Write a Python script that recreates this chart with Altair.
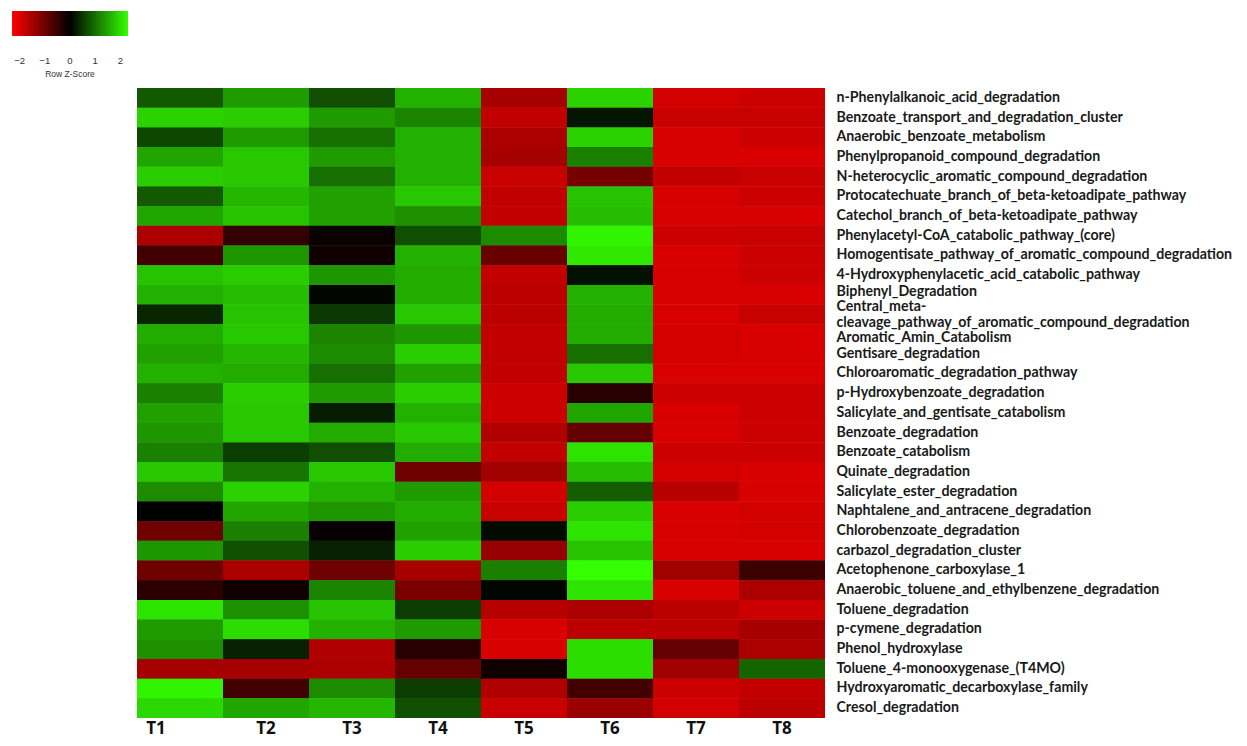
import altair as alt
import pandas as pd

pathways = [
    "n-Phenylalkanoic_acid_degradation",
    "Benzoate_transport_and_degradation_cluster",
    "Anaerobic_benzoate_metabolism",
    "Phenylpropanoid_compound_degradation",
    "N-heterocyclic_aromatic_compound_degradation",
    "Protocatechuate_branch_of_beta-ketoadipate_pathway",
    "Catechol_branch_of_beta-ketoadipate_pathway",
    "Phenylacetyl-CoA_catabolic_pathway_(core)",
    "Homogentisate_pathway_of_aromatic_compound_degradation",
    "4-Hydroxyphenylacetic_acid_catabolic_pathway",
    "Biphenyl_Degradation",
    "Central_meta-|cleavage_pathway_of_aromatic_compound_degradation",
    "Aromatic_Amin_Catabolism",
    "Gentisare_degradation",
    "Chloroaromatic_degradation_pathway",
    "p-Hydroxybenzoate_degradation",
    "Salicylate_and_gentisate_catabolism",
    "Benzoate_degradation",
    "Benzoate_catabolism",
    "Quinate_degradation",
    "Salicylate_ester_degradation",
    "Naphtalene_and_antracene_degradation",
    "Chlorobenzoate_degradation",
    "carbazol_degradation_cluster",
    "Acetophenone_carboxylase_1",
    "Anaerobic_toluene_and_ethylbenzene_degradation",
    "Toluene_degradation",
    "p-cymene_degradation",
    "Phenol_hydroxylase",
    "Toluene_4-monooxygenase_(T4MO)",
    "Hydroxyaromatic_decarboxylase_family",
    "Cresol_degradation",
]

samples = ["T1", "T2", "T3", "T4", "T5", "T6", "T7", "T8"]

T1 = [0.8, 1.9, 0.65, 1.5, 1.85, 0.8, 1.5, -1.55, -0.6, 1.75, 1.6, 0.35, 1.55, 1.45, 1.6, 1.15,
      1.45, 1.35, 1.15, 1.8, 1.25, 0.0, -1.0, 1.35, -1.0, -0.4, 2.05, 1.4, 1.3, -1.5, 2.2, 1.95]
T2 = [1.4, 1.85, 1.4, 1.8, 1.8, 1.65, 1.75, -0.45, 1.35, 1.85, 1.7, 1.75, 1.8, 1.65, 1.55, 1.85,
      1.8, 1.8, 0.55, 1.05, 1.9, 1.5, 1.15, 0.7, -1.55, -0.15, 1.3, 2.0, 0.3, -1.5, -0.6, 1.5]
T3 = [0.7, 1.4, 1.0, 1.4, 1.0, 1.45, 1.45, -0.1, -0.15, 1.35, 0.05, 0.5, 1.2, 1.25, 1.0, 1.4,
      0.25, 1.55, 0.7, 1.8, 1.6, 1.35, -0.05, 0.3, -1.0, 1.2, 1.75, 1.6, -1.6, -1.55, 1.25, 1.65]
T4 = [1.6, 1.2, 1.6, 1.6, 1.6, 1.8, 1.3, 0.7, 1.6, 1.55, 1.55, 1.8, 1.35, 1.85, 1.45, 1.85,
      1.6, 1.8, 1.55, -1.0, 1.4, 1.55, 1.45, 1.85, -1.5, -1.1, 0.55, 1.4, -0.35, -0.9, 0.55, 0.7]
T5 = [-1.5, -1.75, -1.55, -1.5, -1.8, -1.75, -1.75, 1.25, -0.95, -1.75, -1.7, -1.7, -1.75, -1.75, -1.75, -1.85,
      -1.85, -1.6, -1.75, -1.45, -1.9, -1.8, 0.1, -1.35, 1.15, 0.05, -1.65, -1.95, -1.95, -0.15, -1.6, -1.8]
T6 = [1.9, 0.2, 1.9, 1.15, -1.05, 1.75, 1.7, 2.2, 2.1, 0.15, 1.6, 1.55, 1.55, 1.0, 1.8, -0.35,
      1.5, -0.9, 2.05, 1.7, 0.85, 1.85, 2.05, 1.75, 2.3, 2.05, -1.55, -1.7, 2.0, 2.0, -0.6, -1.4]
T7 = [-1.9, -1.8, -1.95, -1.95, -1.75, -1.95, -1.95, -1.85, -1.95, -1.95, -1.95, -1.95, -1.9, -1.9, -1.95, -1.85,
      -1.95, -1.95, -1.85, -1.9, -1.65, -1.95, -1.95, -1.95, -1.45, -1.95, -1.7, -1.7, -0.9, -1.45, -1.85, -1.9]
T8 = [-1.85, -1.8, -1.85, -1.95, -1.8, -1.85, -1.95, -1.8, -1.85, -1.85, -1.95, -1.8, -1.95, -1.95, -1.95, -1.85,
      -1.85, -1.85, -1.85, -1.95, -1.95, -1.9, -1.9, -1.95, -0.55, -1.55, -1.85, -1.5, -1.55, 0.9, -1.75, -1.7]

columns = {"T1": T1, "T2": T2, "T3": T3, "T4": T4, "T5": T5, "T6": T6, "T7": T7, "T8": T8}

records = []
for s in samples:
    for p, v in zip(pathways, columns[s]):
        records.append({"Sample": s, "Pathway": p, "z": v})
df = pd.DataFrame(records)

color_domain = [-2.3, 0, 2.3]
color_range = ["#ff0000", "#000000", "#33ff00"]

label_shift = {
    "condition": [
        {"test": "indexof(datum.value, '|') >= 0", "value": -7},
        {"test": "datum.value == 'Biphenyl_Degradation'", "value": -3},
        {"test": "datum.value == 'Aromatic_Amin_Catabolism'", "value": 4},
    ],
    "value": 0,
}

x_enc = alt.X(
    "Sample:N",
    sort=samples,
    scale=alt.Scale(paddingInner=0, paddingOuter=0),
    axis=alt.Axis(
        title=None,
        orient="bottom",
        labelAngle=0,
        ticks=False,
        domain=False,
        labelFont="Open Sans",
        labelFontWeight="bold",
        labelFontSize=17,
        labelColor="#111111",
        labelPadding=2,
        labelOffset={"condition": {"test": "datum.value == 'T1'", "value": -24}, "value": 0},
    ),
)

y_enc = alt.Y(
    "Pathway:N",
    sort=pathways,
    scale=alt.Scale(paddingInner=0, paddingOuter=0),
    axis=alt.Axis(
        title=None,
        orient="right",
        ticks=False,
        domain=False,
        labelFont="Lato",
        labelFontWeight="bold",
        labelFontSize=14.2,
        labelColor="#1a1a1a",
        labelPadding=11,
        labelLimit=500,
        labelLineHeight=16,
        labelExpr="split(datum.label, '|')",
        labelOffset=label_shift,
    ),
)

color_scale = alt.Scale(domain=color_domain, range=color_range, interpolate="rgb")

legend = alt.Legend(
    title="Row Z-Score",
    orient="none",
    legendX=-125,
    legendY=-77,
    direction="horizontal",
    gradientLength=116,
    gradientThickness=25,
    values=[-2, -1, 0, 1, 2],
    labelFontSize=9.5,
    labelFont="Liberation Sans",
    labelColor="#333333",
    labelOffset=20,
    titleOrient="bottom",
    titleAnchor="middle",
    titleFontSize=8.5,
    titleFont="Liberation Sans",
    titleFontWeight="normal",
    titleColor="#333333",
    titlePadding=4,
)

base = alt.Chart(df).mark_rect(strokeWidth=0)

cells = base.encode(x=x_enc, y=y_enc, color=alt.Color("z:Q", scale=color_scale, legend=legend))
cells_again = base.encode(x=x_enc, y=y_enc, color=alt.Color("z:Q", scale=color_scale, legend=None))

chart = (
    alt.layer(cells, cells_again)
    .properties(
        width=688,
        height=630,
        autosize=alt.AutoSizeParams(type="none"),
        padding={"left": 129, "top": 80, "right": 414, "bottom": 20},
    )
    .configure_view(stroke=None)
)

chart.save("out.html", embed_options={"renderer": "svg", "actions": False})
